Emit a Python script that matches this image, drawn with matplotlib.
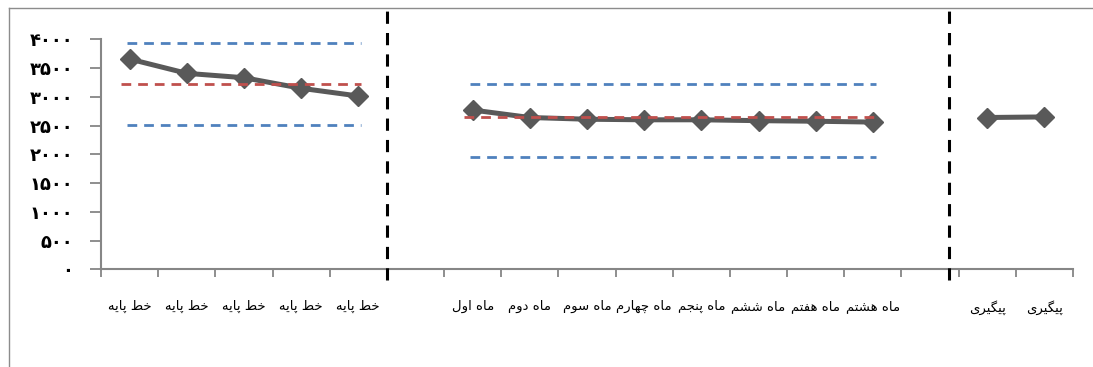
import matplotlib
matplotlib.use("Agg")
import matplotlib.pyplot as plt
from matplotlib.lines import Line2D
from matplotlib.ticker import FixedLocator, FixedFormatter

# categories (empty slots separate the phases)
categories = ["خط پایه"] * 5 + [""] + ["ماه اول", "ماه دوم", "ماه سوم", "ماه چهارم",
              "ماه پنجم", "ماه ششم", "ماه هفتم", "ماه هشتم"] + [""] + ["پیگیری", "پیگیری"]

baseline_vals = [3657, 3408, 3332, 3148, 3014]
month_vals = [2770, 2640, 2610, 2600, 2600, 2585, 2575, 2560]
followup_vals = [2640, 2650]

# reference lines (upper, mean, lower) per phase
baseline_ref = [3930, 3217, 2515]
month_ref = [3217, 2649, 1958]

yticks = [0, 500, 1000, 1500, 2000, 2500, 3000, 3500, 4000]

# --- crude arabic shaping (matplotlib has no complex text layout) ---
FORMS = {  # iso, fin, ini, med
    "ا": ("\uFE8D", "\uFE8E", None, None),
    "د": ("\uFEA9", "\uFEAA", None, None),
    "ر": ("\uFEAD", "\uFEAE", None, None),
    "و": ("\uFEED", "\uFEEE", None, None),
    "پ": ("\uFB56", "\uFB57", "\uFB58", "\uFB59"),
    "ت": ("\uFE95", "\uFE96", "\uFE97", "\uFE98"),
    "ج": ("\uFE9D", "\uFE9E", "\uFE9F", "\uFEA0"),
    "چ": ("\uFB7A", "\uFB7B", "\uFB7C", "\uFB7D"),
    "خ": ("\uFEA5", "\uFEA6", "\uFEA7", "\uFEA8"),
    "س": ("\uFEB1", "\uFEB2", "\uFEB3", "\uFEB4"),
    "ش": ("\uFEB5", "\uFEB6", "\uFEB7", "\uFEB8"),
    "ط": ("\uFEC1", "\uFEC2", "\uFEC3", "\uFEC4"),
    "ف": ("\uFED1", "\uFED2", "\uFED3", "\uFED4"),
    "گ": ("\uFB92", "\uFB93", "\uFB94", "\uFB95"),
    "ل": ("\uFEDD", "\uFEDE", "\uFEDF", "\uFEE0"),
    "م": ("\uFEE1", "\uFEE2", "\uFEE3", "\uFEE4"),
    "ن": ("\uFEE5", "\uFEE6", "\uFEE7", "\uFEE8"),
    "ه": ("\uFEE9", "\uFEEA", "\uFEEB", "\uFEEC"),
    "ی": ("\uFBFC", "\uFBFD", "\uFBFE", "\uFBFF"),
}

def shape(s):
    out = []
    for i, c in enumerate(s):
        if c not in FORMS:
            out.append(c)
            continue
        prev = s[i - 1] if i > 0 else ""
        nxt = s[i + 1] if i + 1 < len(s) else ""
        j_prev = prev in FORMS and FORMS[prev][2] is not None
        j_next = FORMS[c][2] is not None and nxt in FORMS
        iso, fin, ini, med = FORMS[c]
        if j_prev and j_next:
            out.append(med)
        elif j_prev:
            out.append(fin)
        elif j_next:
            out.append(ini)
        else:
            out.append(iso)
    return "".join(out)[::-1]

def fa_digits(n):
    return "".join("۰۱۲۳۴۵۶۷۸۹"[int(d)] for d in str(n))

fig = plt.figure(figsize=(10.93, 3.67), dpi=100)
ax = fig.add_axes([101 / 1093, 1 - 269.3 / 367, (1073 - 101) / 1093, 230 / 367])

n = len(categories)
xb = list(range(0, 5))
xm = list(range(6, 14))
xf = list(range(15, 17))

blue = "#4f81bd"
red = "#c0504d"
dash = (0, (3.5, 2.5))

for xs, ref in ((xb, baseline_ref), (xm, month_ref)):
    x0, x1 = xs[0] - 0.15, xs[-1] + 0.05
    ax.plot([x0 + 0.1, x1], [ref[0]] * 2, color=blue, lw=2, ls=dash, zorder=6)
    ax.plot([x0, x1], [ref[1]] * 2, color=red, lw=2, ls=dash, zorder=6)
    ax.plot([x0 + 0.1, x1], [ref[2]] * 2, color=blue, lw=2, ls=dash, zorder=6)

line_kw = dict(color="#595959", lw=3.6, marker="D", markersize=10, zorder=5)
ax.plot(xb, baseline_vals, **line_kw)
ax.plot(xm, month_vals, **line_kw)
ax.plot(xf, followup_vals, **line_kw)

# phase separators
trans = ax.get_xaxis_transform()
for xs in (4.5, 14.33):
    ax.plot([xs, xs], [-0.045, 1.136], transform=trans, color="black", lw=2.2,
            ls=(0, (4, 3)), clip_on=False, zorder=7)

ax.set_xlim(-0.5, n - 0.5)
ax.set_ylim(0, 4000)

ax.xaxis.set_major_locator(FixedLocator([i - 0.5 for i in range(n + 1)]))
ax.xaxis.set_major_formatter(FixedFormatter([""] * (n + 1)))
ax.xaxis.set_minor_locator(FixedLocator(list(range(n))))
ax.xaxis.set_minor_formatter(FixedFormatter([shape(c) for c in categories]))
ax.tick_params(axis="x", which="major", length=6, width=1.3, color="#868686", direction="out")
ax.tick_params(axis="x", which="minor", length=0, pad=22, labelsize=9.5)

ax.set_yticks(yticks)
ax.set_yticklabels([fa_digits(v) for v in yticks], fontweight="bold", fontsize=13)
ax.tick_params(axis="y", length=8, width=1.3, color="#868686", pad=12)

for s in ("top", "right"):
    ax.spines[s].set_visible(False)
for s in ("left", "bottom"):
    ax.spines[s].set_color("#868686")
    ax.spines[s].set_linewidth(1.5)

# outer frame (top and left edge)
fig.add_artist(Line2D([9 / 1093, 1], [1 - 8 / 367] * 2, transform=fig.transFigure,
                      color="#8c8c8c", lw=1))
fig.add_artist(Line2D([9 / 1093] * 2, [0, 1 - 8 / 367], transform=fig.transFigure,
                      color="#8c8c8c", lw=1))

fig.savefig("out.png", dpi=100)
